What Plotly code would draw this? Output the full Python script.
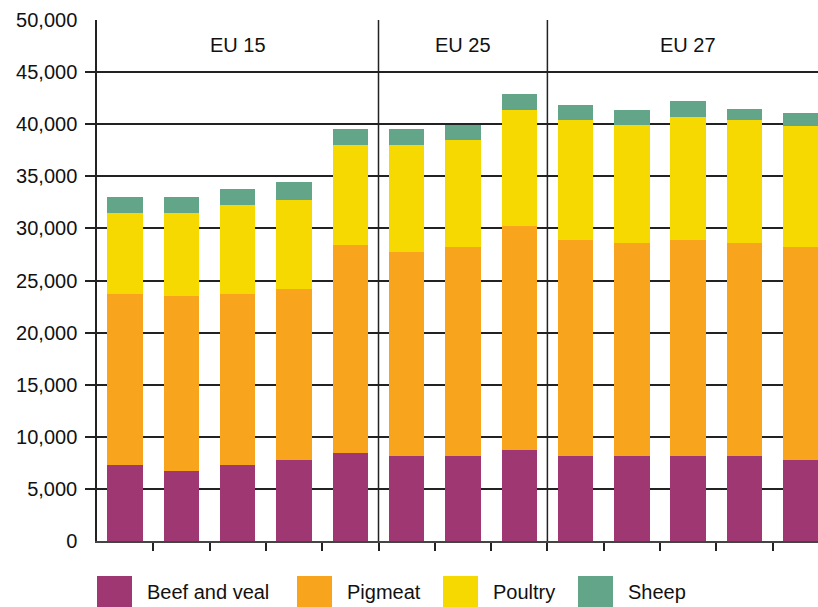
import plotly.graph_objects as go

# Data (thousand tonnes)
bar_index = list(range(13))
beef =    [7300, 6700, 7300, 7800, 8450, 8150, 8150, 8700, 8150, 8150, 8150, 8150, 7800]
pigmeat = [16400, 16800, 16400, 16400, 19950, 19550, 20050, 21500, 20750, 20450, 20750, 20450, 20400]
poultry = [7800, 8000, 8500, 8500, 9600, 10300, 10300, 11200, 11500, 11300, 11800, 11800, 11600]
sheep =   [1500, 1500, 1600, 1800, 1500, 1500, 1400, 1500, 1400, 1500, 1500, 1100, 1300]

series_names = ["Beef and veal", "Pigmeat", "Poultry", "Sheep"]
colors = ["#9F3872", "#F8A51D", "#F6D900", "#63A588"]

group_labels = ["EU 15", "EU 25", "EU 27"]
group_centers = [2, 6, 10]
group_separators = [4.5, 7.5]

y_ticks = list(range(0, 50001, 5000))

FONT = "Liberation Sans, Arial, Helvetica, sans-serif"

fig = go.Figure()
for name, vals, col in zip(series_names, [beef, pigmeat, poultry, sheep], colors):
    fig.add_trace(go.Bar(x=bar_index, y=vals, name=name, marker=dict(color=col, line=dict(width=0)),
                         showlegend=False))

W, H = 818, 607
ml, mr, mt = 97, 0, 20
mb = H - 541
pw, ph = W - ml - mr, H - mt - mb

def px_x(p):
    return (p - ml) / pw

def px_y(p):
    return (H - mb - p) / ph

unit_px = 56.3
x_max = -0.5 + pw / unit_px

shapes = []
for sx in group_separators:
    shapes.append(dict(type="line", xref="x", yref="y", x0=sx, x1=sx, y0=0, y1=50000,
                       line=dict(color="#222", width=1.5)))

annotations = []
for lbl, cx in zip(group_labels, group_centers):
    annotations.append(dict(x=cx, y=47600, xref="x", yref="y", text=lbl, showarrow=False,
                            font=dict(size=20, color="#111", family=FONT), xanchor="center", yanchor="middle"))

# custom legend
leg_sq_x = [97, 297, 443, 578]
leg_tx_x = [145, 345, 491, 626]
for name, col, sx, tx in zip(series_names, colors, leg_sq_x, leg_tx_x):
    shapes.append(dict(type="rect", xref="paper", yref="paper", x0=px_x(sx), x1=px_x(sx + 35),
                       y0=px_y(576), y1=px_y(612), fillcolor=col, line=dict(width=0)))
    annotations.append(dict(x=px_x(tx), y=px_y(592), xref="paper", yref="paper", text=name,
                            showarrow=False, xanchor="left", yanchor="middle",
                            font=dict(size=20, color="#111", family=FONT)))

fig.update_layout(
    width=W, height=H,
    margin=dict(l=ml, r=mr, t=mt, b=mb, pad=0),
    paper_bgcolor="white", plot_bgcolor="white",
    barmode="stack", bargap=0.37,
    font=dict(family=FONT, size=20, color="#111"),
    shapes=shapes, annotations=annotations,
    showlegend=False,
)
fig.update_xaxes(range=[-0.5, x_max], tickvals=[i + 0.5 for i in range(12)], showticklabels=False,
                 ticks="outside", ticklen=8, tickcolor="#222", tickwidth=1.5,
                 showline=True, linecolor="#444", linewidth=2, showgrid=False, zeroline=False)
fig.update_yaxes(range=[0, 50000], tickvals=y_ticks, tickformat=",",
                 ticks="outside", ticklen=10, tickcolor="rgba(0,0,0,0)", ticklabelstandoff=4,
                 minor=dict(tickvals=y_ticks[1:-1], ticks="outside", ticklen=10, tickcolor="#222",
                            tickwidth=1.5, showgrid=False),
                 showline=True, linecolor="#222", linewidth=1.5,
                 showgrid=True, gridcolor="#222", gridwidth=1.5, zeroline=False,
                 tickfont=dict(size=20, color="#111", family=FONT))

fig.write_html(
    "out.html",
    config={"displayModeBar": False},
    post_script="document.body.style.margin='0';document.body.style.overflow='hidden';",
)
